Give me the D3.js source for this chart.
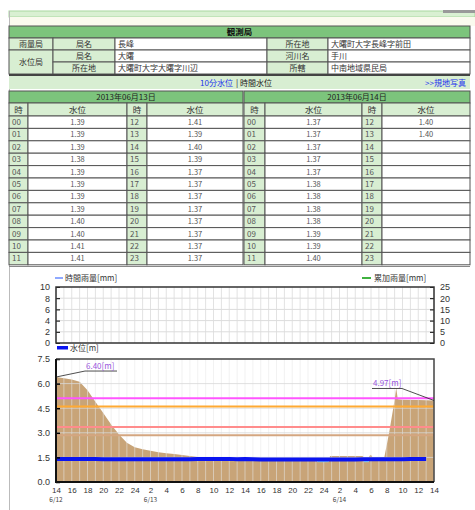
<!DOCTYPE html>
<html>
<head>
<meta charset="utf-8">
<script src="https://cdn.jsdelivr.net/npm/d3@7"></script>
<style>
body { margin: 0; background: #fff; }
svg { display: block; font-family: "Noto Sans CJK JP", "DejaVu Sans", sans-serif; }
</style>
</head>
<body>
<svg id="page" width="475" height="510"></svg>
<script>
// station info
const stationKinds = ["雨量局", "水位局"];
const leftKeys = ["局名", "局名", "所在地"];
const leftVals = ["長峰", "大曙", "大曙町大字大曙字川辺"];
const rightKeys = ["所在地", "河川名", "所轄"];
const rightVals = ["大曙町大字長峰字前田", "手川", "中南地域県民局"];

// hourly water level tables
const dates = ["2013年06月13日", "2013年06月14日"];
const level0613 = [1.39, 1.39, 1.39, 1.38, 1.39, 1.39, 1.39, 1.39, 1.40, 1.40, 1.41, 1.41,
                   1.41, 1.39, 1.40, 1.39, 1.37, 1.37, 1.37, 1.37, 1.37, 1.37, 1.37, 1.37];
const level0614 = [1.37, 1.37, 1.37, 1.37, 1.37, 1.38, 1.38, 1.38, 1.38, 1.39, 1.39, 1.40,
                   1.40, 1.40];
// 6/12 14:00 - 23:00
const level0612 = [1.41, 1.41, 1.41, 1.40, 1.40, 1.40, 1.39, 1.39, 1.39, 1.39];

// chart data (hours counted from 6/12 14:00)
const rainHourly = [0, 0, 0, 0, 0, 0, 0, 0, 0, 0, 0, 0, 0, 0, 0, 0, 0, 0, 0, 0, 0, 0, 0, 0,
                    0, 0, 0, 0, 0, 0, 0, 0, 0, 0, 0, 0, 0, 0, 0, 0, 0, 0, 0, 0, 0, 0, 0, 0];
const areaHours = [0, 1, 2, 3, 4, 5, 6, 7, 8, 9, 10, 11, 12, 13, 14, 15, 16, 17, 18, 19, 20, 22, 24,
                   26, 28, 30, 32, 33, 33.2, 34.6, 34.8, 36, 38, 39, 39.1, 39.7, 39.8, 40, 40.2, 41,
                   41.7, 42.3, 43, 43.2, 43.4, 44, 46, 48];
const areaValues = [6.40, 6.32, 6.25, 6.12, 5.60, 4.90, 4.20, 3.50, 2.90, 2.40, 2.12, 2.00, 1.90,
                    1.82, 1.76, 1.70, 1.64, 1.58, 1.52, 1.47, 1.44, 1.43, 1.42, 1.42, 1.42, 1.41,
                    1.40, 1.40, 1.22, 1.22, 1.58, 1.58, 1.58, 1.58, 1.22, 1.22, 1.58, 1.66, 1.50,
                    1.50, 1.52, 3.00, 5.00, 5.75, 5.05, 5.02, 5.00, 4.97];
const cyanSegments = [[33.2, 34.6, 1.30], [39.1, 39.7, 1.30]];
const thresholds = [5.10, 4.60, 3.35, 2.85];
const thresholdColors = ["#ff55ff", "#ffaa33", "#ff8c8c", "#d4a680"];
const xTickLabels = ["14", "16", "18", "20", "22", "24", "2", "4", "6", "8", "10", "12",
                     "14", "16", "18", "20", "22", "24", "2", "4", "6", "8", "10", "12", "14"];
const dateTickHours = [0, 12, 36];
const dateTickLabels = ["6/12", "6/13", "6/14"];

const svg = d3.select("#page");

// frame bits
svg.append("rect").attr("x", 9).attr("y", 11).attr("width", 466).attr("height", 6)
    .attr("fill", "#d9f0d2").attr("stroke", "#a9d8a0");
svg.append("rect").attr("x", 9).attr("y", 17).attr("width", 466).attr("height", 9).attr("fill", "#fafaee");
svg.append("rect").attr("x", 443).attr("y", 10).attr("width", 32).attr("height", 3).attr("fill", "#999");
svg.append("line").attr("x1", 9.5).attr("x2", 9.5).attr("y1", 11).attr("y2", 510).attr("stroke", "#bbb");

function cell(x, y, w, h, fill, text, opt = {}) {
    svg.append("rect").attr("x", x).attr("y", y).attr("width", w).attr("height", h)
        .attr("fill", fill).attr("stroke", opt.stroke || "#555").attr("stroke-width", 1);
    if (text) {
        const anchor = opt.anchor || "middle";
        svg.append("text")
            .attr("x", anchor === "start" ? x + 3 : x + w / 2)
            .attr("y", y + h / 2)
            .attr("dy", "0.36em")
            .attr("text-anchor", anchor)
            .attr("font-size", opt.size || 8)
            .attr("font-weight", opt.bold ? "bold" : null)
            .attr("fill", opt.color || "#333")
            .text(text);
    }
}

const green = "#7cc47c", pale = "#d8eed2";

// station table
cell(9, 26, 461, 12, green, "観測局", {bold: true, color: "#111", size: 8.5});
const sx = [9, 53, 115, 267, 328, 470];
const sy = [38, 50, 62, 74];
cell(sx[0], sy[0], sx[1] - sx[0], 12, pale, stationKinds[0]);
cell(sx[0], sy[1], sx[1] - sx[0], 24, pale, stationKinds[1]);
for (let r = 0; r < 3; r++) {
    cell(sx[1], sy[r], sx[2] - sx[1], 12, pale, leftKeys[r]);
    cell(sx[2], sy[r], sx[3] - sx[2], 12, "#fff", leftVals[r], {anchor: "start"});
    cell(sx[3], sy[r], sx[4] - sx[3], 12, pale, rightKeys[r]);
    cell(sx[4], sy[r], sx[5] - sx[4], 12, "#fff", rightVals[r], {anchor: "start"});
}
svg.append("rect").attr("x", 9).attr("y", 74).attr("width", 461).attr("height", 2).attr("fill", "#444");

// link row
svg.append("rect").attr("x", 9).attr("y", 76).attr("width", 461).attr("height", 13).attr("fill", pale);
svg.append("text").attr("x", 233).attr("y", 86).attr("text-anchor", "end").attr("font-size", 8)
    .attr("fill", "#2233ee").text("10分水位");
svg.append("text").attr("x", 236).attr("y", 86).attr("font-size", 8).attr("fill", "#222").text("| 時間水位");
svg.append("text").attr("x", 466).attr("y", 86).attr("text-anchor", "end").attr("font-size", 8)
    .attr("fill", "#2233ee").text(">>規地写真");

// level tables
const tableX = [9, 244];
const colW = [[19, 99, 20, 96], [21, 97, 20, 88]];
const levels = [level0613, level0614];
const rowH = 12.4;
dates.forEach((dt, d) => {
    const x0 = tableX[d], w = colW[d];
    const cx = [x0, x0 + w[0], x0 + w[0] + w[1], x0 + w[0] + w[1] + w[2]];
    const total = d3.sum(w);
    cell(x0, 91, total, 12, green, dt, {color: "#222"});
    ["時", "水位", "時", "水位"].forEach((t, c) => cell(cx[c], 103, w[c], 13, pale, t, {size: 8.5}));
    for (let i = 0; i < 12; i++) {
        const y = 116 + i * rowH;
        const a = levels[d][i], b = levels[d][i + 12];
        cell(cx[0], y, w[0], rowH, pale, String(i).padStart(2, "0"), {anchor: "start", color: "#555"});
        cell(cx[1], y, w[1], rowH, "#fff", a !== undefined ? a.toFixed(2) : "", {color: "#555", size: 7.5});
        cell(cx[2], y, w[2], rowH, pale, String(i + 12), {anchor: "start", color: "#555"});
        cell(cx[3], y, w[3], rowH, "#fff", b !== undefined ? b.toFixed(2) : "", {color: "#555", size: 7.5});
    }
});
svg.append("line").attr("x1", 9).attr("x2", 470).attr("y1", 266.5).attr("y2", 266.5).attr("stroke", "#888");

// ---- charts ----
const x = d3.scaleLinear().domain([0, 48]).range([56, 434]);
const hours = d3.range(0, 49);

// rain chart
const yRain = d3.scaleLinear().domain([0, 10]).range([343, 287]);
const yCum = d3.scaleLinear().domain([0, 25]).range([343, 287]);
svg.append("rect").attr("x", 56).attr("y", 287).attr("width", 378).attr("height", 56).attr("fill", "#fff");
svg.append("g").selectAll("line").data(hours).enter().append("line")
    .attr("x1", d => x(d)).attr("x2", d => x(d)).attr("y1", 287).attr("y2", 343)
    .attr("stroke", "#e2e2e2");
svg.append("g").selectAll("line").data([2, 4, 6, 8]).enter().append("line")
    .attr("x1", 56).attr("x2", 434).attr("y1", d => yRain(d)).attr("y2", d => yRain(d))
    .attr("stroke", "#dcdcdc");
svg.append("g").selectAll("rect").data(rainHourly).enter().append("rect")
    .attr("x", (d, i) => x(i) + 1).attr("width", x(1) - x(0) - 2)
    .attr("y", d => yRain(d)).attr("height", d => yRain(0) - yRain(d)).attr("fill", "#6a8cff");
svg.append("g").attr("transform", "translate(56,0)")
    .call(d3.axisLeft(yRain).tickValues([0, 2, 4, 6, 8, 10]).tickSize(-4).tickPadding(6))
    .call(g => g.select(".domain").remove())
    .call(g => g.selectAll("text").attr("font-size", 9).attr("fill", "#333"));
svg.append("g").attr("transform", "translate(434,0)")
    .call(d3.axisRight(yCum).tickValues([0, 5, 10, 15, 20, 25]).tickSize(-4).tickPadding(6))
    .call(g => g.select(".domain").remove())
    .call(g => g.selectAll("text").attr("font-size", 9).attr("fill", "#333"));
svg.append("rect").attr("x", 56).attr("y", 287).attr("width", 378).attr("height", 56)
    .attr("fill", "none").attr("stroke", "#333").attr("stroke-width", 1.5);

// rain legends
svg.append("line").attr("x1", 55).attr("x2", 63).attr("y1", 278).attr("y2", 278)
    .attr("stroke", "#6a8cff").attr("stroke-width", 1.5);
svg.append("text").attr("x", 65).attr("y", 281).attr("font-size", 8).attr("fill", "#333").text("時間雨量[mm]");
svg.append("line").attr("x1", 362).attr("x2", 371).attr("y1", 278).attr("y2", 278)
    .attr("stroke", "#009900").attr("stroke-width", 1.5);
svg.append("text").attr("x", 374).attr("y", 281).attr("font-size", 8).attr("fill", "#333").text("累加雨量[mm]");

// water level chart
const y = d3.scaleLinear().domain([0, 7.5]).range([482, 359]);
svg.append("rect").attr("x", 56).attr("y", 359).attr("width", 378).attr("height", 123).attr("fill", "#fff");
const areaData = areaHours.map((h, i) => ({h: h, v: areaValues[i]}));
svg.append("path").datum(areaData)
    .attr("d", d3.area().x(d => x(d.h)).y0(y(0)).y1(d => y(d.v)))
    .attr("fill", "#c8a478");
svg.append("g").selectAll("line").data(hours).enter().append("line")
    .attr("x1", d => x(d)).attr("x2", d => x(d)).attr("y1", 359).attr("y2", 482)
    .attr("stroke", "#e8e8e8").attr("stroke-opacity", 0.55);
svg.append("g").selectAll("line").data([1.5, 3.0, 4.5, 6.0]).enter().append("line")
    .attr("x1", 56).attr("x2", 434).attr("y1", d => y(d)).attr("y2", d => y(d))
    .attr("stroke", "#d8d8d8").attr("stroke-opacity", 0.8);
svg.append("g").selectAll("line").data(thresholds).enter().append("line")
    .attr("x1", 56).attr("x2", 434).attr("y1", d => y(d)).attr("y2", d => y(d))
    .attr("stroke", (d, i) => thresholdColors[i]).attr("stroke-width", 2);
svg.append("g").selectAll("line").data(cyanSegments).enter().append("line")
    .attr("x1", d => x(d[0])).attr("x2", d => x(d[1])).attr("y1", d => y(d[2])).attr("y2", d => y(d[2]))
    .attr("stroke", "#8ee4f4").attr("stroke-width", 3);
const blueLevels = level0612.concat(level0613, level0614);
svg.append("path").datum(blueLevels)
    .attr("d", d3.line().x((d, i) => x(i)).y(d => y(d)))
    .attr("fill", "none").attr("stroke", "#0a14f0").attr("stroke-width", 4);

svg.append("g").attr("transform", "translate(56,0)")
    .call(d3.axisLeft(y).tickValues([0, 1.5, 3, 4.5, 6, 7.5]).tickFormat(d3.format(".1f")).tickSize(-4).tickPadding(6))
    .call(g => g.select(".domain").remove())
    .call(g => g.selectAll("line").attr("stroke", "#000").attr("stroke-width", 1.5))
    .call(g => g.selectAll("text").attr("font-size", 9).attr("fill", "#333"));
svg.append("g").attr("transform", "translate(0,482)")
    .call(d3.axisBottom(x).tickValues(d3.range(0, 49, 2)).tickFormat((d, i) => xTickLabels[i]).tickSize(0).tickPadding(5))
    .call(g => g.select(".domain").remove())
    .call(g => g.selectAll("text").attr("font-size", 8).attr("fill", "#333"));
svg.append("g").selectAll("text").data(dateTickHours).enter().append("text")
    .attr("x", d => x(d)).attr("y", 502).attr("text-anchor", "middle")
    .attr("font-size", 6.5).attr("fill", "#444").text((d, i) => dateTickLabels[i]);

svg.append("path").attr("d", "M56,359H434V482").attr("fill", "none").attr("stroke", "#444").attr("stroke-width", 1.5);
svg.append("path").attr("d", "M56,359V482H434").attr("fill", "none").attr("stroke", "#111").attr("stroke-width", 2);

// level legend
svg.append("rect").attr("x", 57).attr("y", 346).attr("width", 11).attr("height", 3.5).attr("fill", "#0a14f0");
svg.append("text").attr("x", 70).attr("y", 351).attr("font-size", 8).attr("fill", "#333").text("水位[m]");

// value notes at both ends
const notes = [
    {h: 0, v: areaValues[0], dx: 29, dy: -6, w: 32},
    {h: 48, v: areaValues[areaValues.length - 1], dx: -32, dy: -12, w: -30}
];
notes.forEach(n => {
    const px = x(n.h), py = y(n.v);
    const lx = px + n.dx, ly = py + n.dy;
    svg.append("path").attr("d", `M${px},${py}L${lx},${ly}L${lx + n.w},${ly}`)
        .attr("fill", "none").attr("stroke", "#222").attr("stroke-width", 0.8);
    const left = Math.min(lx, lx + n.w);
    svg.append("text").attr("x", left + 1).attr("y", ly - 2).attr("font-size", 8)
        .attr("fill", "#9955dd").text(n.v.toFixed(2) + "[m]");
});
</script>
</body>
</html>
